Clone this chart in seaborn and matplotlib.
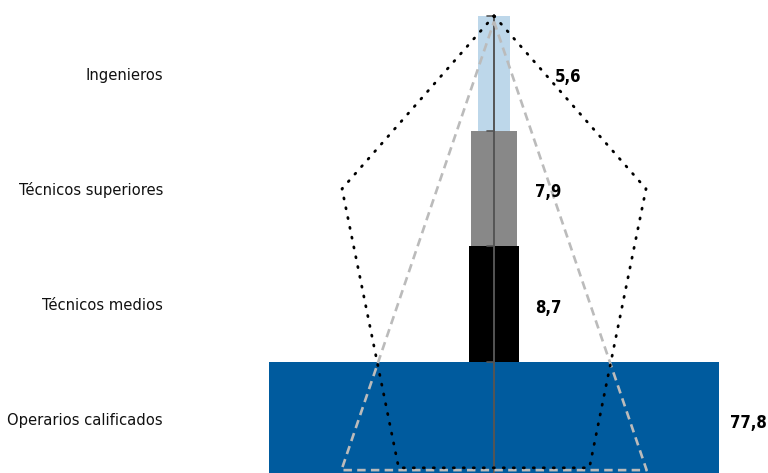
import matplotlib
matplotlib.use("Agg")
import matplotlib.pyplot as plt
import seaborn as sns
import pandas as pd

categories = ["Ingenieros", "Técnicos superiores", "Técnicos medios", "Operarios calificados"]
values = [5.6, 7.9, 8.7, 77.8]
value_labels = ["5,6", "7,9", "8,7", "77,8"]
bar_colors = ["#BDD7EA", "#888888", "#000000", "#005B9E"]

# decorative outlines (data coordinates)
pent_x = [0, 26.3, 16.5, -16.5, -26.3, 0]
pent_y = [-0.5, 1.0, 3.42, 3.42, 1.0, -0.5]
tri_x = [0, 26.4, -26.4, 0]
tri_y = [-0.45, 3.44, 3.44, -0.45]

sns.set_theme(style="white")
plt.rcParams["font.family"] = ["Liberation Sans Narrow", "DejaVu Sans"]
plt.rcParams["font.stretch"] = "condensed"

df = pd.DataFrame({"cat": categories, "half": [v / 2 for v in values],
                   "neg": [-v / 2 for v in values]})

fig = plt.figure(figsize=(7.68, 4.73), dpi=100)
ax = fig.add_axes([170 / 768, 0, 1 - 170 / 768, 1])

pal = dict(zip(categories, bar_colors))
sns.barplot(data=df, y="cat", x="half", hue="cat", palette=pal, orient="h",
            width=1.0, ax=ax, legend=False, linewidth=0, saturation=1)
sns.barplot(data=df, y="cat", x="neg", hue="cat", palette=pal, orient="h",
            width=1.0, ax=ax, legend=False, linewidth=0, saturation=1)

ax.set_xlim(-56.06, 47.40)
ax.set_ylim(3.465, -0.6375)

# center line with small ticks
ax.plot([0, 0], [-0.5, 3.6], color="#555555", lw=1.4, zorder=5)
for yb in [-0.5, 0.5, 1.5, 2.5]:
    ax.plot([-1.2, 0], [yb, yb], color="#555555", lw=1.2, zorder=5)

ax.plot(tri_x, tri_y, color="#BBBBBB", lw=1.9, linestyle=(0, (3.2, 2.0)), zorder=6)
ax.plot(pent_x, pent_y, color="black", lw=2.0, linestyle=(0, (0.4, 3.2)),
        dash_capstyle="round", zorder=7)

label_x = [10.55, 7.1, 7.1, 40.8]
for i, (lx, txt) in enumerate(zip(label_x, value_labels)):
    ax.text(lx, i + 0.03, txt, ha="left", va="center", fontsize=12,
            fontweight="bold", color="black", zorder=8)

ax.set_xlabel("")
ax.set_ylabel("")
ax.set_xticks([])
ax.tick_params(axis="y", length=0, pad=5.0, labelsize=11.8)
for lab in ax.get_yticklabels():
    lab.set_color("#111111")
for s in ax.spines.values():
    s.set_visible(False)

fig.savefig("out.png", dpi=100)
